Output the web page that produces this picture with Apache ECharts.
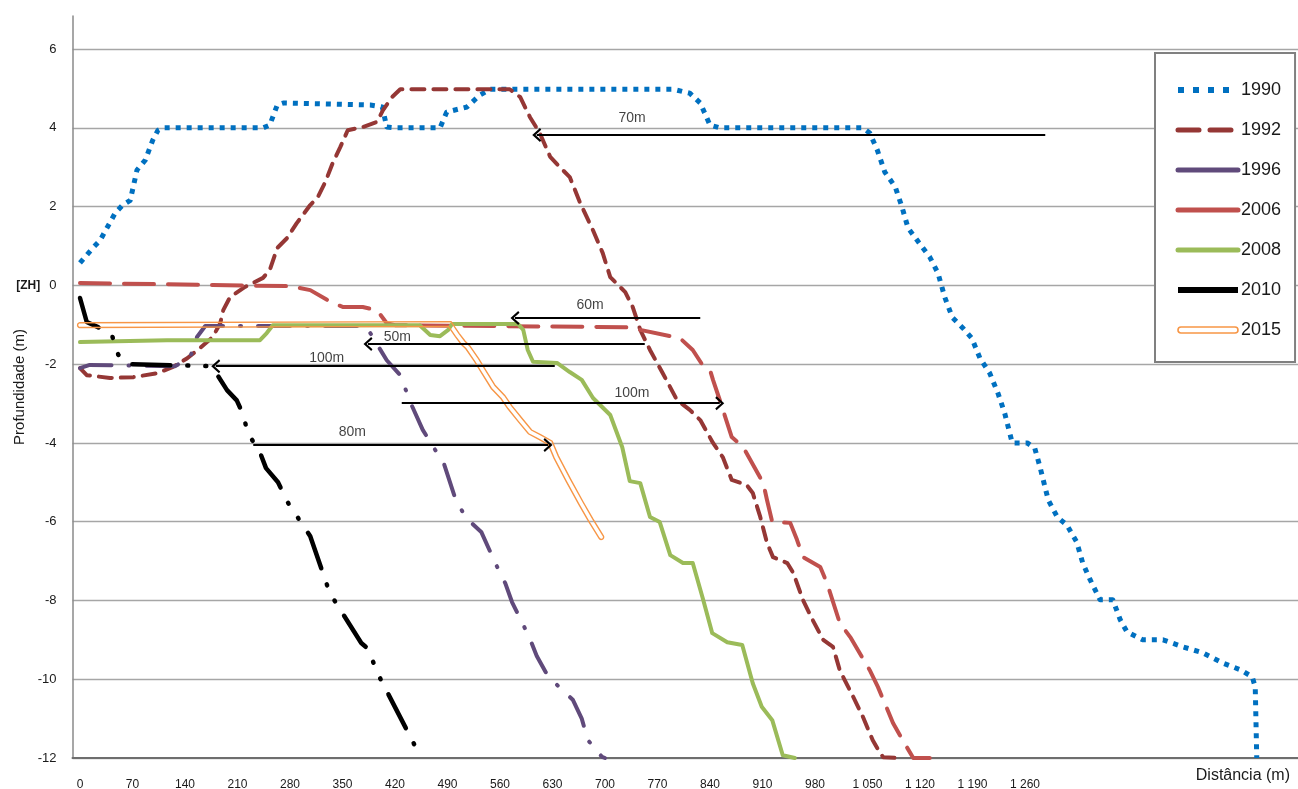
<!DOCTYPE html>
<html><head><meta charset="utf-8">
<script src="https://cdn.jsdelivr.net/npm/echarts@6/dist/echarts.min.js"></script>
<style>html,body{margin:0;padding:0;background:#fff}#c{width:1298px;height:789px}</style>
</head><body><div id="c"></div>
<script>
// ---- data ----
const xTickLabels = [0,70,140,210,280,350,420,490,560,630,700,770,840,910,980,1050,1120,1190,1260];
const yTickValues = [-12,-10,-8,-6,-4,-2,0,2,4,6];
const seriesNames = ['1990','1992','1996','2006','2008','2010','2015'];

const s1990 = [[0,0.57],[17,0.95],[27,1.15],[47,1.84],[57,2.04],[67,2.16],[76,2.93],[87,3.18],[97,3.69],[104,3.94],[111,4.0],[244,4.0],[253,4.07],[263,4.58],[271,4.63],[387,4.58],[403,4.53],[409,4.02],[420,4.0],[480,4.0],[489,4.4],[516,4.53],[533,4.83],[547,4.98],[791,4.98],[813,4.88],[827,4.63],[840,4.07],[853,4.0],[1044,4.0],[1053,3.87],[1063,3.44],[1073,2.88],[1087,2.5],[1096,1.99],[1104,1.46],[1116,1.15],[1133,0.72],[1144,0.31],[1153,-0.30],[1163,-0.81],[1177,-1.08],[1189,-1.34],[1200,-1.85],[1213,-2.23],[1224,-2.74],[1233,-3.25],[1243,-4.0],[1263,-4.0],[1273,-4.13],[1280,-4.61],[1291,-5.45],[1303,-5.88],[1316,-6.09],[1329,-6.52],[1337,-7.05],[1347,-7.48],[1360,-7.98],[1377,-7.98],[1387,-8.49],[1396,-8.80],[1417,-9.0],[1444,-9.0],[1471,-9.18],[1497,-9.33],[1524,-9.59],[1547,-9.76],[1563,-9.94],[1567,-10.2],[1569,-12.0]];

const s1992 = [[0,-2.10],[9,-2.28],[40,-2.35],[71,-2.33],[103,-2.23],[124,-2.07],[143,-1.85],[160,-1.59],[177,-1.31],[187,-0.96],[191,-0.63],[200,-0.30],[220,-0.04],[244,0.19],[253,0.39],[263,0.95],[276,1.20],[289,1.58],[307,2.04],[317,2.24],[327,2.62],[337,3.11],[347,3.51],[357,3.94],[377,4.02],[396,4.15],[404,4.45],[416,4.78],[427,4.98],[573,4.98],[587,4.78],[600,4.27],[613,3.87],[627,3.26],[640,3.0],[653,2.75],[667,2.09],[684,1.40],[697,0.82],[707,0.21],[727,-0.17],[737,-0.55],[747,-1.13],[760,-1.64],[777,-2.23],[796,-2.91],[813,-3.16],[827,-3.42],[844,-4.0],[857,-4.36],[869,-4.94],[889,-5.07],[897,-5.27],[907,-5.88],[916,-6.54],[924,-6.90],[943,-7.05],[951,-7.30],[964,-7.99],[977,-8.50],[991,-9.0],[1004,-9.18],[1013,-9.77],[1031,-10.45],[1044,-10.96],[1057,-11.55],[1067,-11.88],[1071,-11.98],[1089,-12.0]];

const s1996 = [[0,-2.10],[13,-2.02],[127,-2.05],[147,-1.82],[156,-1.31],[167,-1.03],[380,-1.03],[387,-1.21],[409,-1.90],[427,-2.28],[441,-2.99],[457,-3.67],[472,-4.13],[485,-4.51],[501,-5.45],[515,-5.91],[535,-6.26],[555,-7.10],[567,-7.56],[576,-8.04],[599,-8.93],[609,-9.41],[623,-9.89],[640,-10.22],[657,-10.52],[669,-11.0],[677,-11.54],[696,-11.97],[700,-12.0]];

const s2006 = [[0,0.06],[177,0.01],[280,-0.02],[307,-0.12],[337,-0.45],[351,-0.55],[377,-0.55],[396,-0.63],[409,-0.96],[420,-1.01],[727,-1.06],[747,-1.13],[800,-1.34],[817,-1.64],[831,-2.05],[840,-2.15],[844,-2.40],[853,-2.91],[869,-3.85],[884,-4.10],[911,-5.02],[916,-5.45],[923,-6.01],[947,-6.03],[956,-6.46],[964,-6.90],[987,-7.15],[996,-7.56],[1013,-8.57],[1027,-8.93],[1053,-9.77],[1064,-10.2],[1084,-11.11],[1097,-11.55],[1111,-12.0],[1133,-12.0]];

const s2008 = [[0,-1.44],[116,-1.39],[240,-1.39],[249,-1.21],[257,-1.01],[453,-1.01],[467,-1.26],[480,-1.29],[491,-1.13],[496,-0.98],[584,-0.98],[591,-1.13],[597,-1.64],[604,-1.94],[636,-1.97],[653,-2.20],[669,-2.40],[684,-2.86],[707,-3.29],[723,-4.11],[733,-4.97],[747,-5.02],[760,-5.88],[773,-6.01],[787,-6.85],[804,-7.05],[817,-7.05],[831,-7.99],[843,-8.83],[863,-9.06],[883,-9.13],[897,-10.1],[909,-10.7],[923,-11.04],[937,-11.93],[953,-12.0]];

const s2010 = [[0,-0.32],[9,-0.93],[24,-1.06],[43,-1.29],[51,-1.76],[67,-2.0],[173,-2.05],[184,-2.30],[196,-2.66],[209,-2.92],[217,-3.25],[224,-3.76],[240,-4.24],[248,-4.64],[264,-5.0],[277,-5.51],[307,-6.37],[333,-7.81],[375,-9.08],[383,-9.21],[400,-9.97],[455,-12.0]];

const s2015 = [[0,-1.01],[493,-0.98],[503,-1.26],[511,-1.46],[517,-1.57],[529,-1.90],[537,-2.15],[551,-2.58],[564,-2.84],[573,-3.09],[587,-3.42],[600,-3.72],[613,-3.85],[627,-4.0],[635,-4.36],[651,-4.94],[668,-5.53],[681,-5.96],[695,-6.39]];

// annotation arrows (distance, depth)
const arrowLabels = ['70m','60m','50m','100m','100m','80m'];
const arrowDepth  = [3.82,-0.83,-1.49,-2.05,-2.99,-4.05];
const arrowTail   = [1287,827,753,633,429,231];
const arrowHead   = [609,580,384,181,853,624];
const arrowLabelX = [736,680,423,329,736,363];
const arrowLabelY = [4.25,-0.50,-1.31,-1.85,-2.73,-3.72];

// ---- chart ----
const FONT = "'Liberation Sans', Arial, sans-serif";
const chart = echarts.init(document.getElementById('c'), null, {renderer:'canvas'});

function lineSeries(name, data, color, width, type, cap, z) {
  return {
    type:'line', name, data, symbol:'none', showSymbol:false, z,
    lineStyle:{color, width, type, cap, join:'round'},
    itemStyle:{color},
    emphasis:{disabled:true}, silent:true, animation:false
  };
}

// outline of a thick line (Excel "double" compound line, transparent centre)
function offsetLine(pts, d) {
  const out = [];
  for (let i = 0; i < pts.length; i++) {
    let n1 = null, n2 = null;
    if (i > 0) {
      const dx = pts[i][0]-pts[i-1][0], dy = pts[i][1]-pts[i-1][1], l = Math.hypot(dx,dy) || 1;
      n1 = [-dy/l, dx/l];
    }
    if (i < pts.length-1) {
      const dx = pts[i+1][0]-pts[i][0], dy = pts[i+1][1]-pts[i][1], l = Math.hypot(dx,dy) || 1;
      n2 = [-dy/l, dx/l];
    }
    let n;
    if (!n1) n = n2; else if (!n2) n = n1;
    else {
      let m = [n1[0]+n2[0], n1[1]+n2[1]]; const ml = Math.hypot(m[0],m[1]) || 1;
      m = [m[0]/ml, m[1]/ml];
      const c = Math.max(m[0]*n1[0]+m[1]*n1[1], 0.4);
      n = [m[0]/c, m[1]/c];
    }
    out.push([pts[i][0]+n[0]*d, pts[i][1]+n[1]*d]);
  }
  return out;
}
function capArc(P, t, n, d, sign) {
  const out = [];
  for (let k = 1; k < 10; k++) {
    const a = k/10*Math.PI;
    out.push([P[0] + sign*d*(n[0]*Math.cos(a) + t[0]*Math.sin(a)),
              P[1] + sign*d*(n[1]*Math.cos(a) + t[1]*Math.sin(a))]);
  }
  return out;
}
function doubleLineRender(src, color, half) {
  return function (params, api) {
    if (params.dataIndex !== 0) return null;
    const pts = src.map(p => api.coord(p));
    const N = pts.length;
    const left = offsetLine(pts, half);
    const right = offsetLine(pts, -half).reverse();
    const P = pts[N-1], Q = pts[N-2];
    let tx = P[0]-Q[0], ty = P[1]-Q[1], tl = Math.hypot(tx,ty) || 1;
    const tE = [tx/tl, ty/tl], nE = [-tE[1], tE[0]];
    const S = pts[0], S2 = pts[1];
    tx = S2[0]-S[0]; ty = S2[1]-S[1]; tl = Math.hypot(tx,ty) || 1;
    const tS = [tx/tl, ty/tl], nS = [-tS[1], tS[0]];
    const outline = [].concat(left, capArc(P, tE, nE, half, 1), right, capArc(S, tS, nS, half, -1));
    return {type:'polygon', silent:true, shape:{points:outline},
            style:{fill:'none', stroke:color, lineWidth:1.4}};
  };
}

const arrowPath = 'path://M10,0 L20,12 L17.5,14 L10,5 L2.5,14 L0,12 Z';

const option = {
  backgroundColor:'#fff',
  animation:false,
  textStyle:{fontFamily:FONT},
  grid:{left:72.5, right:0, top:16, bottom:31, containLabel:false, outerBoundsMode:'none'},
  xAxis:{
    type:'value', min:-10, max:1624,
    axisLine:{show:true, onZero:false, lineStyle:{color:'#6e6e6e', width:2}},
    axisTick:{show:false},
    splitLine:{show:false},
    axisLabel:{
      customValues: xTickLabels,
      margin:21, fontSize:12, color:'#1a1a1a', fontFamily:FONT,
      formatter: v => v >= 1000 ? String(v).replace(/^(\d)(\d{3})$/, '$1 $2') : String(v)
    }
  },
  yAxis:{
    type:'value', min:-12, max:6.84, interval:2,
    name:'Profundidade (m)', nameLocation:'middle', nameGap:45, nameMoveOverlap:false,
    nameTextStyle:{fontSize:15, color:'#1a1a1a', fontFamily:FONT},
    axisLine:{show:true, onZero:false, lineStyle:{color:'#8a8a8a', width:1.5}},
    axisTick:{show:false},
    splitLine:{show:true, showMaxLine:false, lineStyle:{color:'#a6a6a6', width:1.3}},
    axisLabel:{
      margin:16, fontSize:13, color:'#1a1a1a', fontFamily:FONT,
      showMaxLabel:false,
      formatter: v => (yTickValues.indexOf(v) < 0) ? '' : (v === 0 ? '{zh|[ZH]}0' : String(v)),
      rich:{zh:{fontSize:12, fontWeight:'bold', color:'#1a1a1a', fontFamily:FONT, padding:[0,9,0,0]}}
    }
  },
  legend:{
    orient:'vertical', left:1155, top:53,
    padding:[28,14,23,20], itemGap:22, itemWidth:60, itemHeight:14,
    backgroundColor:'#fff', borderColor:'#808080', borderWidth:2,
    itemStyle:{opacity:0},
    textStyle:{fontSize:18, color:'#1a1a1a', fontFamily:FONT, padding:[0,0,0,-2]},
    selectedMode:false,
    data:[
      {name:'1990', lineStyle:{width:6, type:[6,9], cap:'butt'}},
      {name:'1992', lineStyle:{width:5, type:[21,11], cap:'round'}},
      {name:'1996', lineStyle:{type:'solid', width:5}},
      {name:'2006', lineStyle:{type:'solid', width:5}},
      {name:'2008', lineStyle:{type:'solid', width:5}},
      {name:'2010', lineStyle:{type:'solid', width:6, cap:'butt'}},
      {name:'2015', icon:'path://M3,0 L57,0 A3,3 0 0 1 57,6 L3,6 A3,3 0 0 1 3,0 Z', itemStyle:{opacity:1, color:'#fff', borderColor:'#F79646', borderWidth:1.6}}
    ]
  },
  graphic:[{
    type:'text', right:8, top:768, silent:true,
    style:{text:'Distância (m)', font:"16px 'Liberation Sans', Arial, sans-serif", fill:'#1a1a1a'}
  }],
  series:[
    lineSeries(seriesNames[0], s1990, '#0070C0', 5, [5,6], 'butt', 2),
    lineSeries(seriesNames[1], s1992, '#953735', 4, [13,9], 'round', 3),
    lineSeries(seriesNames[2], s1996, '#604A7B', 4, [32,17,1,17], 'round', 4),
    lineSeries(seriesNames[3], s2006, '#C0504D', 4, [30,14], 'round', 5),
    lineSeries(seriesNames[4], s2008, '#9BBB59', 4, 'solid', 'round', 6),
    lineSeries(seriesNames[5], s2010, '#000000', 4.5, [38,17,1,17,1,17], 'round', 7),
    {
      type:'custom', name:seriesNames[6], coordinateSystem:'cartesian2d', z:8,
      silent:true, animation:false, clip:false,
      itemStyle:{color:'#F79646'},
      encode:{x:0, y:1},
      data: s2015,
      renderItem: doubleLineRender(s2015, '#F79646', 2.4)
    },
    {
      type:'scatter', name:'annotations', z:20, silent:true, animation:false,
      symbolSize:1, itemStyle:{color:'rgba(0,0,0,0)'},
      data: arrowLabelX.map((x,i) => ({name:arrowLabels[i], value:[x, arrowLabelY[i]]})),
      label:{show:true, position:'inside', formatter:'{b}', color:'#111', fontSize:14, fontFamily:FONT},
      markLine:{
        silent:true, animation:false, z:20,
        symbol:['none', arrowPath], symbolSize:[14,9],
        lineStyle:{color:'#000', width:2, type:'solid'},
        label:{show:false}, emphasis:{disabled:true},
        data: arrowDepth.map((y,i) => [{coord:[arrowTail[i], y]}, {coord:[arrowHead[i], y]}])
      }
    }
  ]
};
chart.setOption(option);
</script>
</body></html>
